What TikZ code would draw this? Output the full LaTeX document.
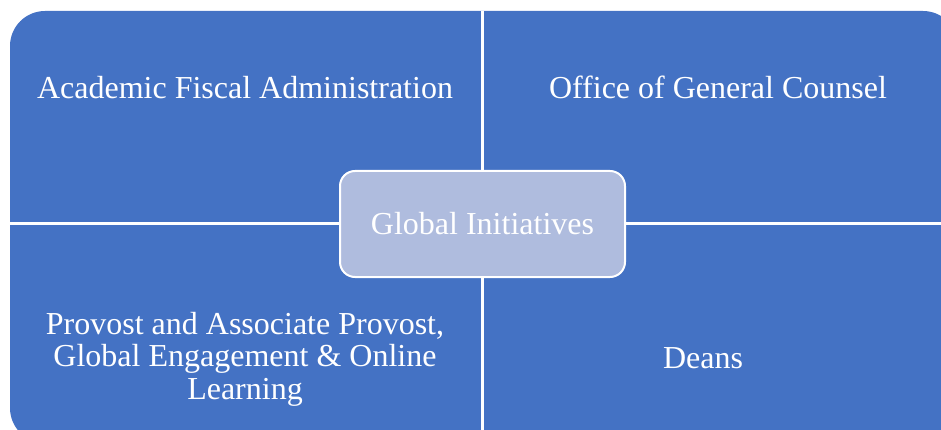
\documentclass[tikz,border=0pt]{standalone}
\usepackage{fontspec}
\setmainfont{Liberation Serif}

\definecolor{quadblue}{HTML}{4472C4}
\definecolor{hubblue}{HTML}{AFBCDE}

\tikzset{
  quadtext/.style={text=white, font=\fontsize{32}{32.5}\selectfont, align=center, anchor=base, inner sep=0pt},
  hub/.style={draw=white, line width=2pt, fill=hubblue, rounded corners=15pt,
    minimum width=285pt, minimum height=106pt, inner sep=0pt,
    text=white, font=\fontsize{32}{33}\selectfont},
  divider/.style={white, line width=3pt}
}

\begin{document}
\begin{tikzpicture}[x=1pt,y=-1pt]
    \useasboundingbox (0,0) rectangle (941,430);
    \clip (0,0) rectangle (941,430);
    \fill[quadblue, rounded corners=35pt] (10,11) rectangle (958,443);
    \coordinate (T) at (482,11);
    \coordinate (B) at (482,443);
    \coordinate (L) at (10,224);
    \coordinate (R) at (958,224);
    \draw[divider] (T) -- (B) (L) -- (R);
    %quadrants
    \node[quadtext] (fiscal) at (245,99) {Academic Fiscal Administration};
    \node[quadtext] (counsel) at (718,99) {Office of General Counsel};
    \node[quadtext] (provost) at (245,399) {Provost and Associate Provost,\\Global Engagement \& Online\\Learning};%base = last line
    \node[quadtext] (deans) at (703,368) {Deans};
    \node[hub] (hub) at (482.5,224) {Global Initiatives};
\end{tikzpicture}
\end{document}
